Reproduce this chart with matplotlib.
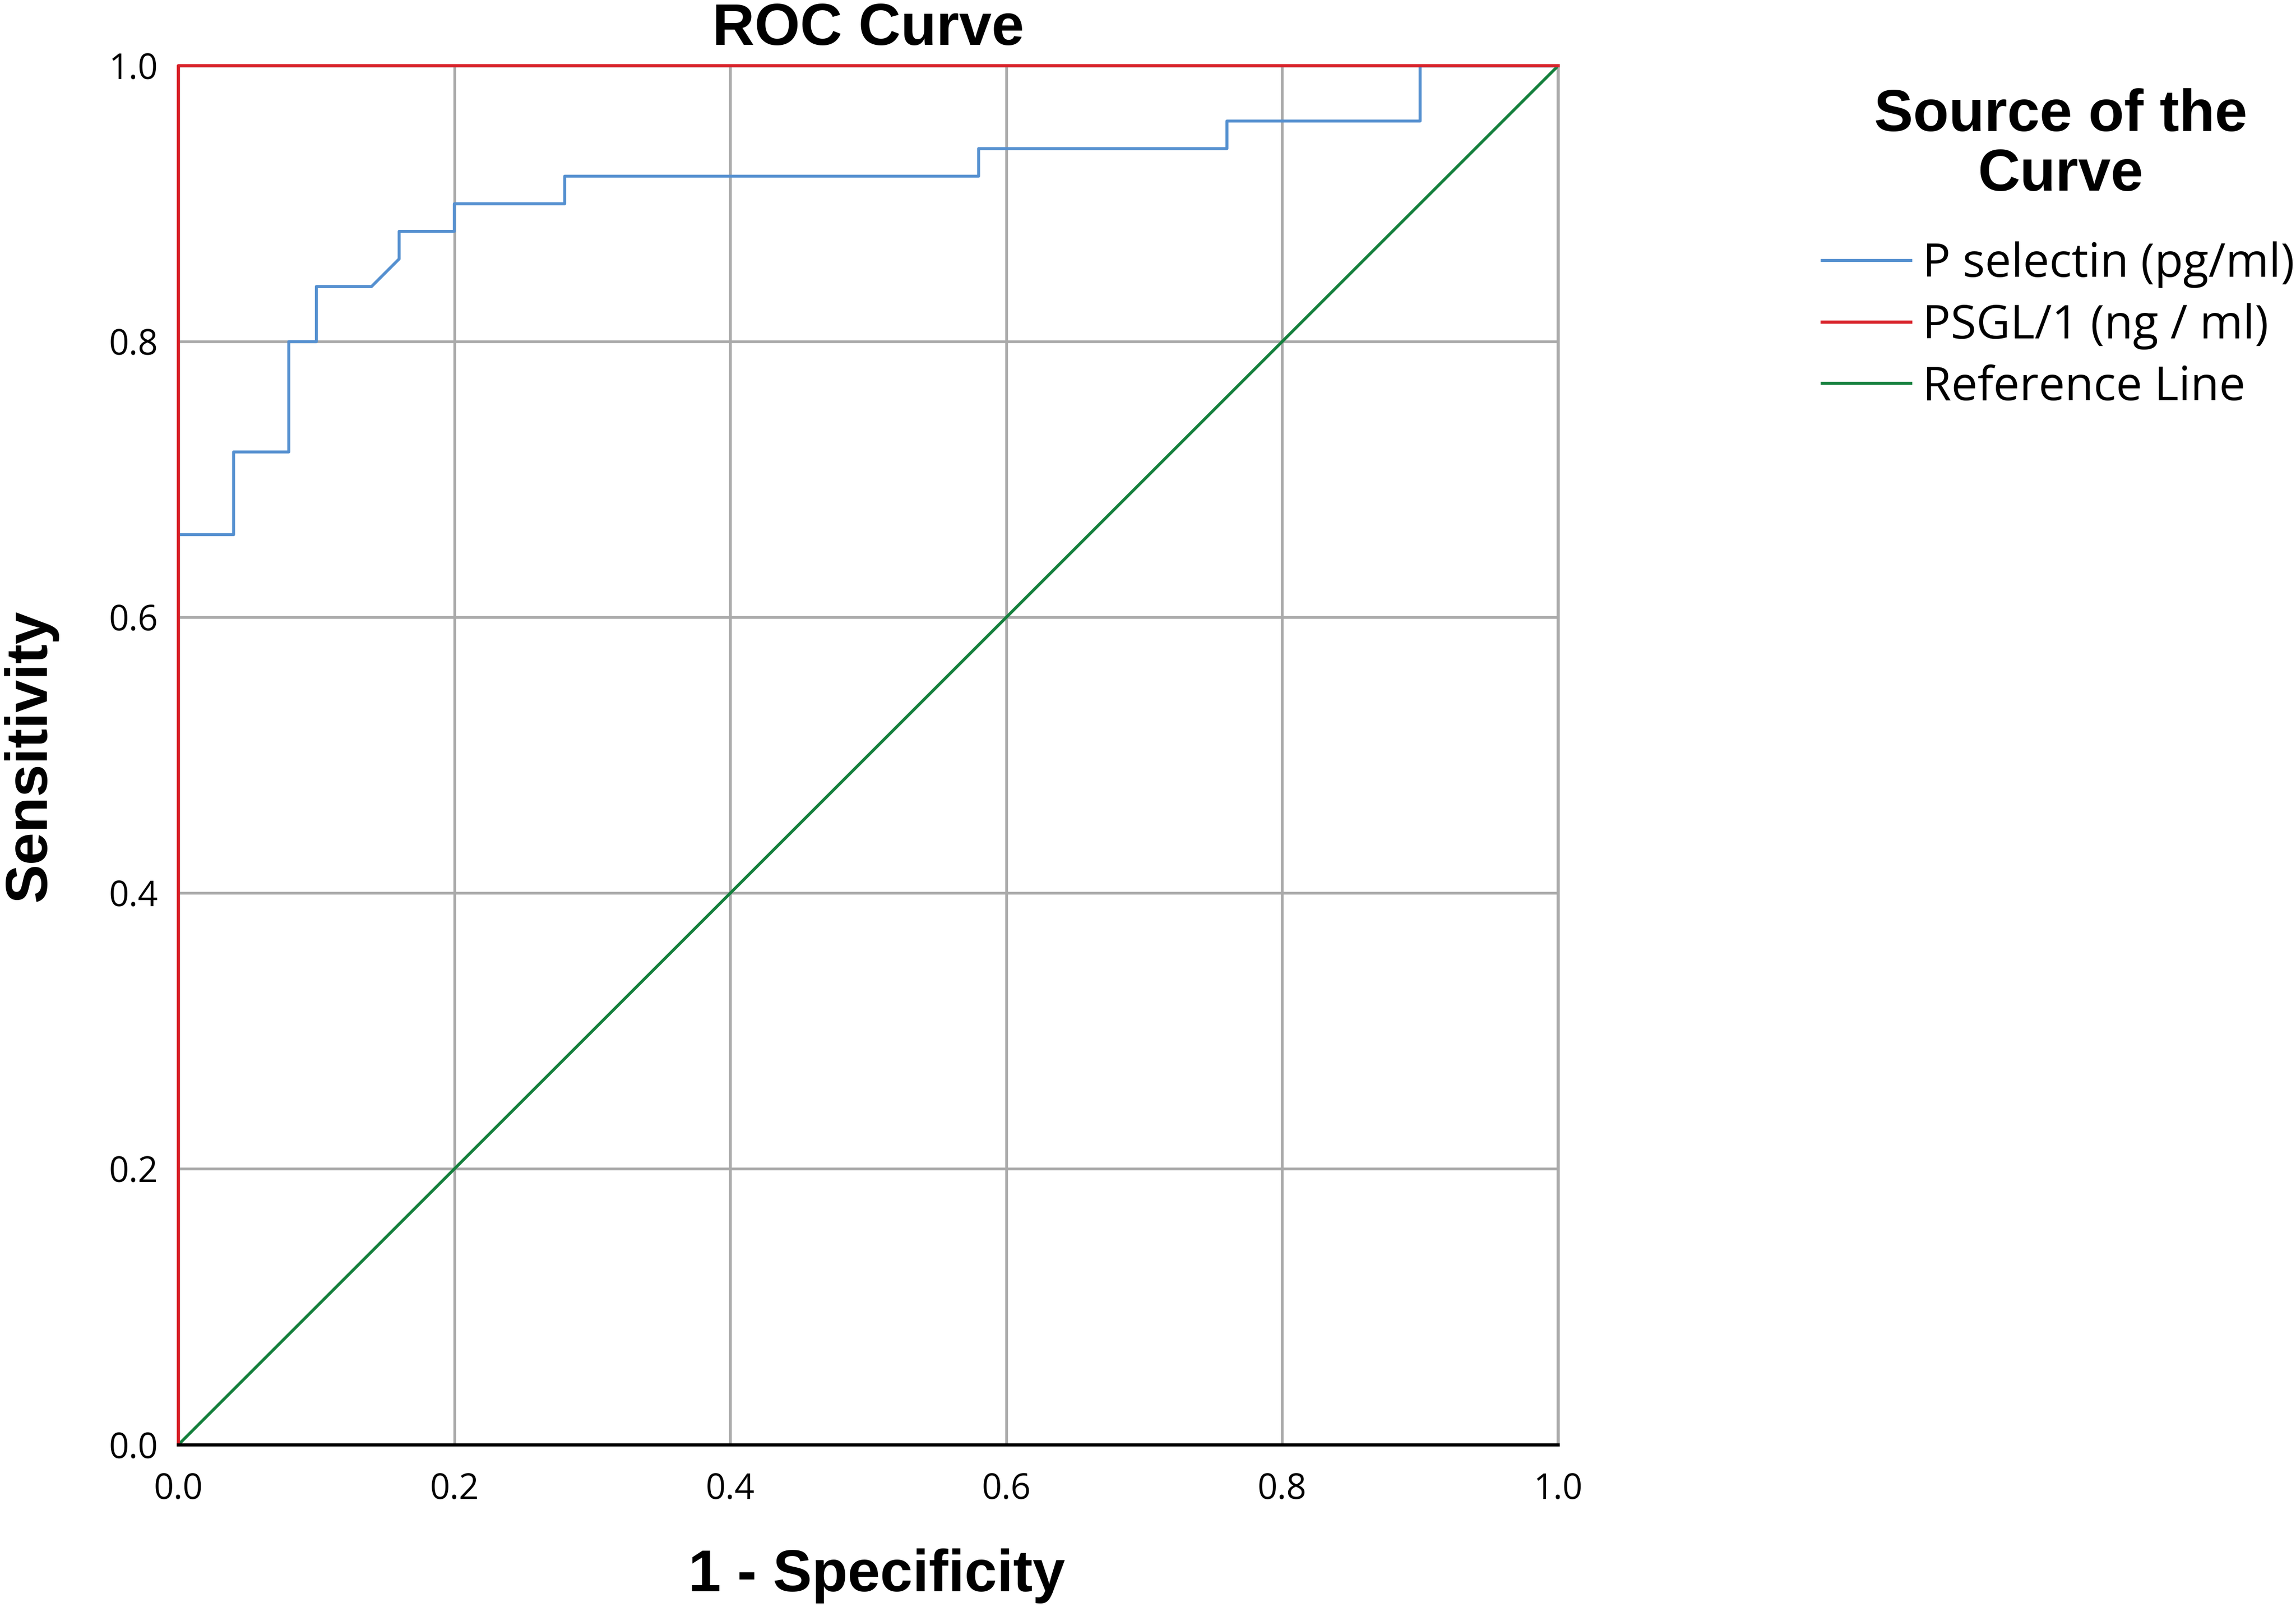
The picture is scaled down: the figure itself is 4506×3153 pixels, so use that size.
import matplotlib
matplotlib.use('Agg')
import matplotlib.pyplot as plt

# ROC points
p_sel_fpr = [0.0, 0.04, 0.04, 0.08, 0.08, 0.10, 0.10, 0.14, 0.16, 0.16, 0.20, 0.20,
             0.28, 0.28, 0.58, 0.58, 0.76, 0.76, 0.90, 0.90, 1.0]
p_sel_tpr = [0.66, 0.66, 0.72, 0.72, 0.80, 0.80, 0.84, 0.84, 0.86, 0.88, 0.88, 0.90,
             0.90, 0.92, 0.92, 0.94, 0.94, 0.96, 0.96, 1.0, 1.0]
psgl_fpr = [0.0, 0.0, 1.0]
psgl_tpr = [0.0, 1.0, 1.0]
ref_x = [0.0, 1.0]
ref_y = [0.0, 1.0]
ticks = [0.0, 0.2, 0.4, 0.6, 0.8, 1.0]
tick_labels = ['0.0', '0.2', '0.4', '0.6', '0.8', '1.0']

bold = {'family': 'Liberation Sans', 'weight': 'bold', 'size': 27.5}
plt.rcParams['font.family'] = ['Open Sans', 'DejaVu Sans']

fig = plt.figure(figsize=(15.02, 10.51), dpi=300)
ax = fig.add_axes([0.0777, 0.101, 0.6009, 0.858])

ax.plot(ref_x, ref_y, color='#15803d', lw=1.4, label='Reference Line', zorder=3)
ax.plot(p_sel_fpr, p_sel_tpr, color='#5590d0', lw=1.4, label='P selectin (pg/ml)', zorder=4)
ax.plot(psgl_fpr, psgl_tpr, color='#d81f27', lw=1.5, label='PSGL/1 (ng / ml)', zorder=5,
        clip_on=False)

ax.set_xlim(0, 1)
ax.set_ylim(0, 1)
ax.set_xticks(ticks)
ax.set_yticks(ticks)
ax.set_xticklabels(tick_labels)
ax.set_yticklabels(tick_labels)
ax.tick_params(length=0, labelsize=16.5)
ax.tick_params(axis='x', pad=13)
ax.tick_params(axis='y', pad=9.5)
ax.grid(True, color='#aaaaaa', lw=1.3)
ax.set_axisbelow(True)

for s in ['top', 'left']:
    ax.spines[s].set_visible(False)
ax.spines['right'].set_color('#aaaaaa')
ax.spines['right'].set_linewidth(1.5)
ax.spines['bottom'].set_color('black')
ax.spines['bottom'].set_linewidth(1.5)
ax.spines['bottom'].set_zorder(6)

ax.set_title('ROC Curve', fontdict=bold, pad=10)
ax.set_xlabel('1 - Specificity', fontdict=bold, labelpad=19)
ax.xaxis.label.set_x(0.506)
ax.set_ylabel('Sensitivity', fontdict=bold, labelpad=24)

# legend, with its title as a separate centred text
fig.text(0.8975, 0.945, 'Source of the\nCurve', ha='center', va='top',
         multialignment='center', linespacing=1.1, **bold)
h, l = ax.get_legend_handles_labels()
order = [1, 2, 0]
fig.legend([h[i] for i in order], [l[i] for i in order],
           loc='upper left', bbox_to_anchor=(0.7855, 0.8615),
           frameon=False, fontsize=22, handlelength=1.9,
           handletextpad=0.25, labelspacing=0.32, borderaxespad=0)

fig.savefig('out.png', dpi=300)
